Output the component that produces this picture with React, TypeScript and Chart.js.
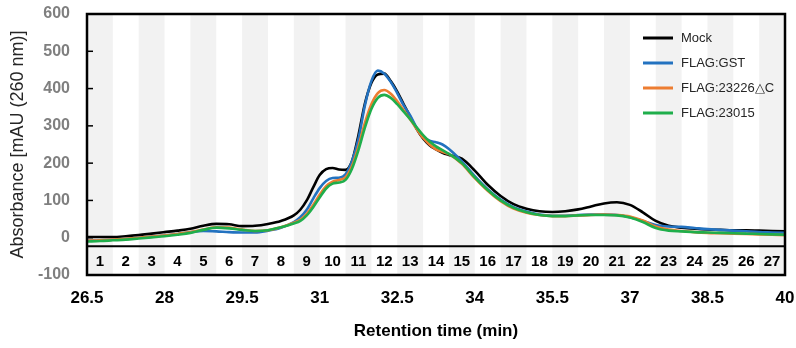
import { useEffect, useRef } from "react";
import { Chart, registerables } from "chart.js";

Chart.register(...registerables);

// Retention time (min)
const times = [
  26.5, 26.75, 27, 27.25, 27.5, 27.75, 28, 28.25, 28.5, 28.75, 29, 29.25, 29.5, 29.75, 30, 30.25, 30.5,
  30.625, 30.75, 30.875, 31, 31.125, 31.25, 31.375, 31.5, 31.625, 31.75, 31.875, 32, 32.125, 32.25, 32.375,
  32.5, 32.625, 32.75, 32.875, 33, 33.125, 33.25, 33.375, 33.5,
  33.75, 34, 34.25, 34.5, 34.75, 35, 35.25, 35.5, 35.75, 36, 36.25, 36.5, 36.75, 37, 37.25, 37.5, 37.75,
  38, 38.25, 38.5, 38.75, 39, 39.25, 39.5, 39.75, 40,
];

const mock = [
  2, 2, 2, 4, 7, 11, 15, 19, 24, 32, 37, 36, 31, 32, 37, 45, 60,
  75, 100, 135, 168, 184, 187, 183, 182, 205, 275, 360, 415, 438, 440, 420,
  392, 358, 325, 292, 266, 248, 237, 228, 222,
  212, 180, 142, 112, 90, 78, 71, 69, 71, 76, 84, 92, 95, 88, 68, 45, 32,
  27, 24, 22, 21, 20, 20, 19, 18, 17,
];

const gst = [
  -8, -7, -5, -3, 0, 3, 6, 10, 15, 18, 17, 15, 14, 14, 19, 27, 42,
  55, 75, 105, 133, 152, 160, 161, 170, 205, 265, 355, 420, 448, 440, 418,
  388, 355, 328, 295, 272, 260, 256, 250, 238,
  205, 165, 130, 102, 82, 70, 62, 59, 59, 61, 62, 62, 61, 55, 45, 34, 30,
  29, 26, 23, 21, 19, 17, 15, 14, 13,
];

const flag23226dC = [
  -8, -7, -5, -3, 0, 3, 6, 10, 15, 22, 28, 27, 22, 18, 20, 28, 40,
  48, 64, 88, 115, 138, 150, 155, 162, 192, 245, 308, 358, 388, 396, 386,
  366, 342, 318, 292, 268, 250, 237, 230, 224,
  198, 160, 126, 98, 78, 67, 61, 58, 58, 60, 61, 62, 61, 57, 46, 30, 22,
  18, 15, 13, 12, 11, 10, 9, 8, 7,
];

const flag23015 = [
  -10, -9, -7, -5, -2, 1, 4, 8, 13, 21, 27, 25, 21, 18, 20, 28, 38,
  45, 60, 82, 108, 132, 145, 148, 155, 185, 235, 295, 345, 375, 383, 375,
  358, 338, 318, 296, 275, 258, 245, 235, 225,
  200, 162, 128, 100, 80, 68, 61, 58, 58, 60, 61, 61, 60, 54, 42, 26, 19,
  17, 15, 14, 13, 12, 11, 10, 9, 8,
];

const seriesLabels = ["Mock", "FLAG:GST", "FLAG:23226\u25B3C", "FLAG:23015"];
const seriesValues = [mock, gst, flag23226dC, flag23015];
const seriesColors = ["#000000", "#2372c0", "#ed7d31", "#1fae4b"];

const xTickValues = [26.5, 28, 29.5, 31, 32.5, 34, 35.5, 37, 38.5, 40];
const yMin = -100;
const yMax = 600;
const yStep = 100;

const fractionLabels = [
  "1", "2", "3", "4", "5", "6", "7", "8", "9", "10", "11", "12", "13", "14",
  "15", "16", "17", "18", "19", "20", "21", "22", "23", "24", "25", "26", "27",
];
const fractionStart = 26.5;
const fractionWidth = 0.5;
const fractionLineValue = -23;

const FONT = "Arial, 'Liberation Sans', sans-serif";

const decorPlugin = {
  id: "decor",
  beforeDatasetsDraw(chart: any) {
    const { ctx, chartArea, scales } = chart;
    const x = scales.x;
    ctx.save();
    ctx.fillStyle = "#f2f2f2";
    fractionLabels.forEach((_, i) => {
      if (i % 2 === 0) {
        const x0 = x.getPixelForValue(fractionStart + i * fractionWidth);
        const x1 = x.getPixelForValue(fractionStart + (i + 1) * fractionWidth);
        ctx.fillRect(x0, chartArea.top, x1 - x0, chartArea.bottom - chartArea.top);
      }
    });
    ctx.restore();
  },
  afterDatasetsDraw(chart: any) {
    const { ctx, chartArea, scales } = chart;
    const x = scales.x;
    const y = scales.y;
    ctx.save();
    // fraction separator line
    const ly = y.getPixelForValue(fractionLineValue);
    ctx.strokeStyle = "#000";
    ctx.lineWidth = 2;
    ctx.beginPath();
    ctx.moveTo(chartArea.left, ly);
    ctx.lineTo(chartArea.right, ly);
    ctx.stroke();
    // fraction numbers
    ctx.fillStyle = "#000";
    ctx.font = `bold 15px ${FONT}`;
    ctx.textAlign = "center";
    ctx.textBaseline = "middle";
    const ny = (ly + chartArea.bottom) / 2 + 1;
    fractionLabels.forEach((lab, i) => {
      const cx = x.getPixelForValue(fractionStart + (i + 0.5) * fractionWidth);
      ctx.fillText(lab, cx, ny);
    });
    // inward y ticks
    ctx.lineWidth = 1.5;
    for (let v = yMin + yStep; v < yMax; v += yStep) {
      const py = y.getPixelForValue(v);
      ctx.beginPath();
      ctx.moveTo(chartArea.left, py);
      ctx.lineTo(chartArea.left + 6, py);
      ctx.stroke();
    }
    // border
    ctx.lineWidth = 2.5;
    ctx.strokeRect(chartArea.left, chartArea.top, chartArea.right - chartArea.left, chartArea.bottom - chartArea.top);
    // legend
    ctx.font = `13px ${FONT}`;
    ctx.textAlign = "left";
    ctx.textBaseline = "middle";
    seriesLabels.forEach((lab, i) => {
      const ry = 38 + i * 25;
      ctx.strokeStyle = seriesColors[i];
      ctx.lineWidth = 3;
      ctx.beginPath();
      ctx.moveTo(643, ry);
      ctx.lineTo(673, ry);
      ctx.stroke();
      ctx.fillStyle = "#262626";
      ctx.fillText(lab, 681, ry);
    });
    ctx.restore();
  },
};

export default function App() {
  const ref = useRef<HTMLCanvasElement | null>(null);

  useEffect(() => {
    if (!ref.current) return;
    const datasets = seriesLabels.map((label, i) => ({
      label,
      data: times.map((t, j) => ({ x: t, y: seriesValues[i][j] })),
      borderColor: seriesColors[i],
      borderWidth: 2.6,
      pointRadius: 0,
      fill: false,
      cubicInterpolationMode: "monotone" as const,
      order: seriesLabels.length - i,
    }));
    const chart = new Chart(ref.current, {
      type: "line",
      data: { datasets },
      plugins: [decorPlugin],
      options: {
        animation: false,
        responsive: false,
        layout: { padding: { left: 0, right: 11, top: 14, bottom: 0 } },
        plugins: { legend: { display: false }, tooltip: { enabled: false } },
        scales: {
          x: {
            type: "linear",
            min: 26.5,
            max: 40,
            afterBuildTicks: (scale: any) => {
              scale.ticks = xTickValues.map((v) => ({ value: v }));
            },
            afterFit: (scale: any) => {
              scale.height = 73;
              scale.paddingLeft = 0;
              scale.paddingRight = 0;
              scale.paddingTop = 0;
              scale.paddingBottom = 0;
            },
            grid: { display: false, drawTicks: false },
            border: { display: false },
            ticks: {
              autoSkip: false,
              maxRotation: 0,
              padding: 13,
              color: "#000",
              font: { family: FONT, size: 17, weight: "bold" },
              callback: (v: any) => String(v),
            },
            title: {
              display: true,
              text: "Retention time (min)",
              color: "#000",
              font: { family: FONT, size: 17, weight: "bold" },
              padding: { top: 0, bottom: 6 },
            },
          },
          y: {
            type: "linear",
            min: yMin,
            max: yMax,
            afterFit: (scale: any) => {
              scale.width = 87;
              scale.paddingLeft = 0;
              scale.paddingRight = 0;
              scale.paddingTop = 0;
              scale.paddingBottom = 0;
            },
            grid: { display: false, drawTicks: false },
            border: { display: false },
            ticks: {
              stepSize: yStep,
              padding: 17,
              color: "#7f7f7f",
              font: { family: FONT, size: 16, weight: "bold" },
            },
            title: {
              display: true,
              text: "Absorbance [mAU (260 nm)]",
              color: "#262626",
              font: { family: FONT, size: 18 },
              padding: { top: 7, bottom: 0 },
            },
          },
        },
      },
    });
    return () => chart.destroy();
  }, []);

  return (
    <div style={{ position: "fixed", left: 0, top: 0, width: 796, height: 348, background: "#fff" }}>
      <canvas ref={ref} width={796} height={348} />
    </div>
  );
}
